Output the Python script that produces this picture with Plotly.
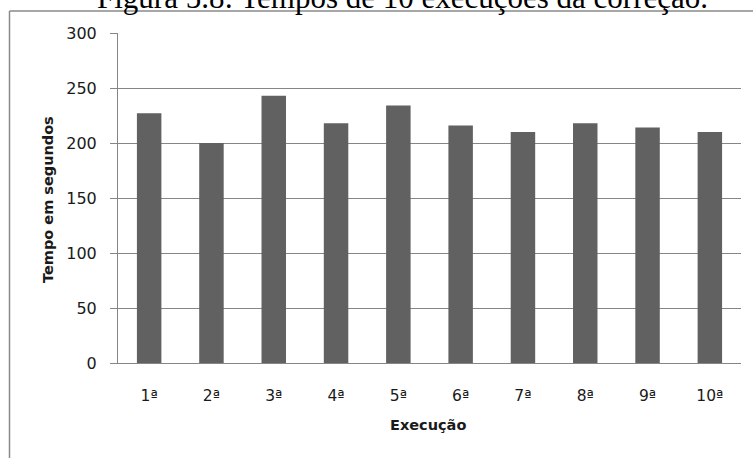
import plotly.graph_objects as go

# Execution times (seconds) for ten runs of the correction step
execucoes = ["1ª", "2ª", "3ª", "4ª", "5ª", "6ª", "7ª", "8ª", "9ª", "10ª"]
tempos = [227, 200, 243, 218, 234, 216, 210, 218, 214, 210]
y_ticks = [0, 50, 100, 150, 200, 250, 300]

W, H = 753, 458
L, R, T, B = 118, 12, 33, 95
PW, PH = W - L - R, H - T - B


def px(x):
    return (x - L) / PW


def py(y):
    return (H - B - y) / PH


AXIS = "#868686"
TEXT = "#1a1a1a"

fig = go.Figure(
    go.Bar(
        x=execucoes,
        y=tempos,
        marker=dict(color="#616161", line=dict(width=0)),
        hoverinfo="x+y",
    )
)

fig.update_layout(
    width=W,
    height=H,
    margin=dict(l=L, r=R, t=T, b=B, pad=0),
    paper_bgcolor="white",
    plot_bgcolor="white",
    bargap=0.607,
    showlegend=False,
    font=dict(family="DejaVu Sans", size=16, color=TEXT),
)

fig.update_xaxes(
    type="category",
    showline=True,
    linecolor=AXIS,
    linewidth=1,
    showgrid=False,
    ticks="",
    ticklabelstandoff=18,
    tickfont=dict(family="DejaVu Sans", size=15.5, color=TEXT),
    automargin=False,
)

fig.update_yaxes(
    range=[0, 300],
    tickvals=y_ticks,
    showline=True,
    linecolor=AXIS,
    linewidth=1,
    showgrid=True,
    gridcolor=AXIS,
    gridwidth=1,
    zeroline=False,
    ticks="outside",
    ticklen=7,
    tickcolor=AXIS,
    ticklabelstandoff=10,
    tickfont=dict(family="DejaVu Sans", size=16, color=TEXT),
    automargin=False,
)

# Outer frame of the chart object (left and top edges)
frame = dict(color="#8a8a8a", width=1.5)
fig.add_shape(type="line", xref="paper", yref="paper",
              x0=px(9.5), x1=px(9.5), y0=py(11), y1=py(H + 2), line=frame)
fig.add_shape(type="line", xref="paper", yref="paper",
              x0=px(9.5), x1=px(W + 2), y0=py(11), y1=py(11), line=frame)

# Axis titles
fig.add_annotation(
    text="<b>Tempo em segundos</b>", xref="paper", yref="paper",
    x=px(48), y=py(200), textangle=-90, showarrow=False,
    xanchor="center", yanchor="middle",
    font=dict(family="DejaVu Sans", size=14.5, color=TEXT),
)
fig.add_annotation(
    text="<b>Execução</b>", xref="paper", yref="paper",
    x=px(428), y=py(425), showarrow=False,
    xanchor="center", yanchor="middle",
    font=dict(family="DejaVu Sans", size=14.5, color=TEXT),
)

# Figure caption above the frame
fig.add_annotation(
    text="Figura 5.8: Tempos de 10 execuções da correção.",
    xref="paper", yref="paper", x=px(402), y=py(17),
    showarrow=False, xanchor="center", yanchor="bottom",
    font=dict(family="Liberation Serif", size=31, color="black"),
)

fig.write_html("out.html")
